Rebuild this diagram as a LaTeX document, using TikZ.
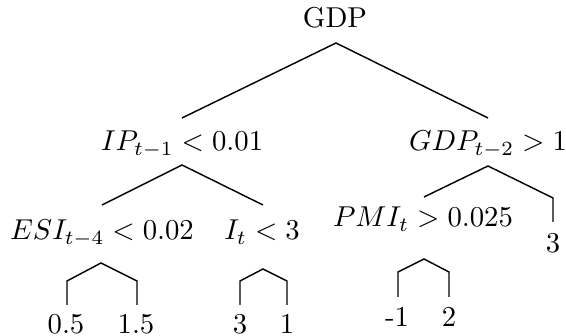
\documentclass[tikz,border=0pt]{standalone}
\usepackage{amsmath}
\begin{document}
\begin{tikzpicture}[x=0.348pt, y=-0.348pt,
    lbl/.style={anchor=base, inner sep=0pt},
    edge/.style={line width=0.5pt, black}]
    % рамка
    \useasboundingbox (0,0) rectangle (566,336);

    % узлы дерева
    \node[lbl] (gdp)  at (335,28)  {GDP};
    \node[lbl] (ip)   at (182,151) {$IP_{t-1} < 0.01$};
    \node[lbl] (gdp2) at (488,151) {$GDP_{t-2} > 1$};
    \node[lbl] (esi)  at (102,240) {$ESI_{t-4} < 0.02$};
    \node[lbl] (it)   at (262,240) {$I_t < 3$};
    \node[lbl] (pmi)  at (423,227) {$PMI_t > 0.025$};
    \node[lbl] (r3)   at (553,253) {3};

    % листья
    \node[lbl] (l1) at (66,334)  {0.5};
    \node[lbl] (l2) at (136,334) {1.5};
    \node[lbl] (l3) at (240,334) {3};
    \node[lbl] (l4) at (287,334) {1};
    \node[lbl] (l5) at (397,327) {-1};
    \node[lbl] (l6) at (449,327) {2};

    % точки ветвления
    \coordinate (gdp-s)  at (336,43);
    \coordinate (ip-n)   at (182,118);
    \coordinate (gdp2-n) at (488,118);
    \coordinate (ip-s)   at (182,165);
    \coordinate (esi-n)  at (102,205);
    \coordinate (it-n)   at (263,205);
    \coordinate (gdp2-s) at (488,166);
    \coordinate (pmi-n)  at (424,197);
    \coordinate (r3-k)   at (553,198);
    \coordinate (r3-n)   at (553,222);
    \coordinate (esi-s)  at (101,263);
    \coordinate (l1-k)   at (67,281);
    \coordinate (l1-n)   at (67,305);
    \coordinate (l2-k)   at (137,281);
    \coordinate (l2-n)   at (137,305);
    \coordinate (it-s)   at (263,269);
    \coordinate (l3-k)   at (240,281);
    \coordinate (l3-n)   at (240,305);
    \coordinate (l4-k)   at (287,281);
    \coordinate (l4-n)   at (287,305);
    \coordinate (pmi-s)  at (424,259);
    \coordinate (l5-k)   at (398,272);
    \coordinate (l5-n)   at (398,297);
    \coordinate (l6-k)   at (449,272);
    \coordinate (l6-n)   at (449,297);

    % ветви
    \draw[edge] (ip-n) -- (gdp-s) -- (gdp2-n);
    \draw[edge] (esi-n) -- (ip-s) -- (it-n);
    \draw[edge] (pmi-n) -- (gdp2-s) -- (r3-k) -- (r3-n);
    \draw[edge] (l1-n) -- (l1-k) -- (esi-s) -- (l2-k) -- (l2-n);
    \draw[edge] (l3-n) -- (l3-k) -- (it-s) -- (l4-k) -- (l4-n);
    \draw[edge] (l5-n) -- (l5-k) -- (pmi-s) -- (l6-k) -- (l6-n);
\end{tikzpicture}
\end{document}
